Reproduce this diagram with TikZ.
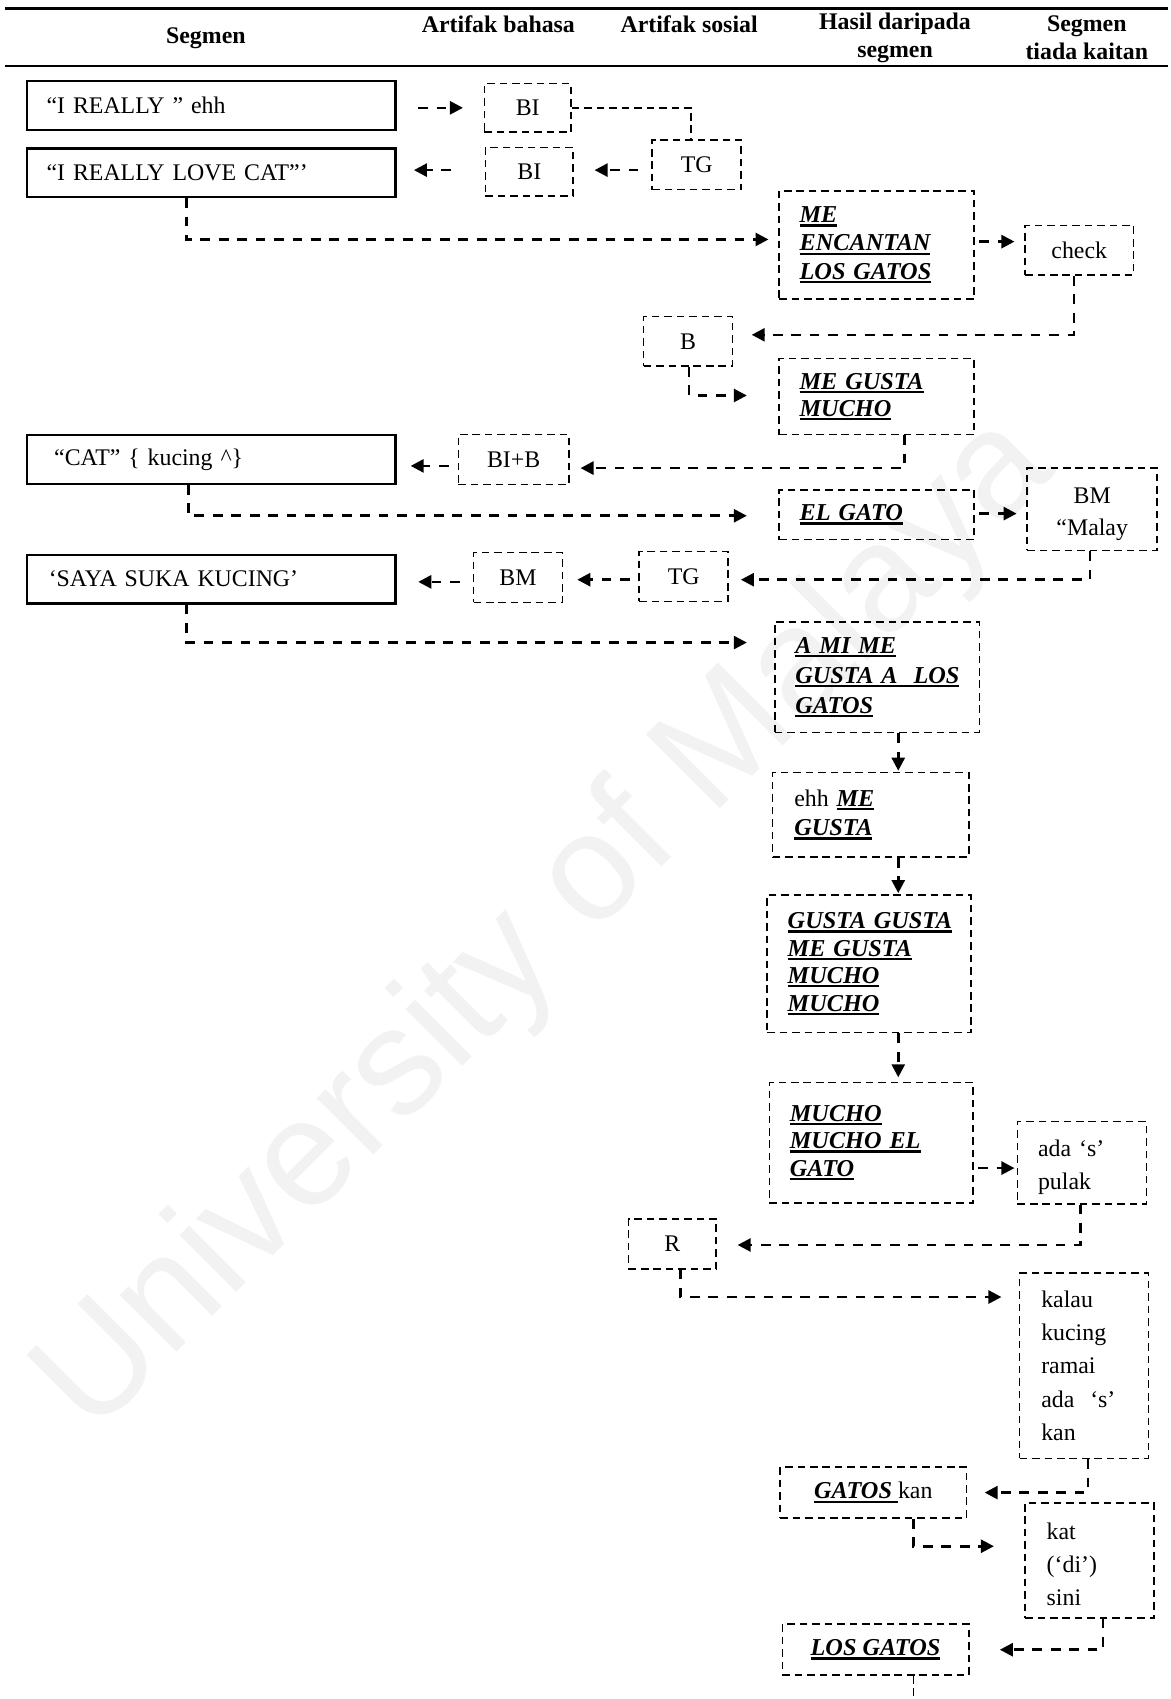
\documentclass[tikz,border=0pt]{standalone}
\usepackage{fontspec}
\setmainfont{Liberation Serif}
\newfontfamily\wmfont{Liberation Sans}
\usetikzlibrary{arrows.meta,calc}
\newcommand\ulx[1]{\leavevmode\setbox0=\hbox{#1}\rlap{\rule[-3.5pt]{\wd0}{2pt}}\box0}
\newcommand\bu[1]{\ulx{\fontsize{22.4}{26}\selectfont\bfseries\itshape #1}}
\begin{document}
\begin{tikzpicture}[x=1pt,y=-1pt,
  fs/.style={font=\fontsize{22}{#1}\selectfont},
  fs/.default=26,
  hdr/.style={font=\fontsize{22}{26}\selectfont\bfseries, align=center, inner sep=0pt},
  sbox/.style={draw, line width=2pt, inner sep=0pt, minimum height=45pt, align=left, fs},
  dbox/.style={draw, line width=1.5pt, dash pattern=on 7pt off 4.5pt, inner sep=0pt, fs},
  conn/.style={line width=2.4pt, dash pattern=on 9pt off 8pt, -{Triangle[length=12pt,width=12pt]}},
  thinc/.style={line width=1.5pt, dash pattern=on 7pt off 4.5pt},
  wm/.style={font=\wmfont\fontsize{140}{142}\selectfont, text=black!5, rotate=45, inner sep=0pt}]
\fill[white] (0,0) rectangle (1080,1568);
\useasboundingbox (0,0) rectangle (1080,1568);

\node[wm] (wm) at (505,855) {University of Malaya};

% header
\draw[line width=2.5pt] (5,8) -- (1078,8);
\draw[line width=2.5pt] (5,61) -- (1078,61);
\node[hdr] (h1) at (190,35) {Segmen};
\node[hdr] (h2) at (460,22) {Artifak bahasa};
\node[hdr] (h3) at (636,22) {Artifak sosial};
\node[hdr] (h4) at (826,35) {Hasil daripada\\segmen};
\node[hdr] (h5) at (1003,35) {Segmen\\tiada kaitan};

% nodes
\node[sbox, text width=304pt, inner xsep=18pt] (s1) at (195,97.5) {“I REALLY ” ehh};
\node[sbox, text width=304pt, inner xsep=18pt] (s2) at (195,159.5) {“I REALLY LOVE CAT”’};
\node[dbox, minimum width=80pt, minimum height=45pt] (bi1) at (487,99.5) {BI};
\node[dbox, minimum width=81pt, minimum height=45pt] (bi2) at (488.5,158.5) {BI};
\node[dbox, minimum width=82pt, minimum height=46pt] (tg1) at (643,152) {TG};
\node[dbox, align=left, text width=142pt, inner xsep=19pt, minimum height=100pt] (me1) at (809,226) {\bu{ME}\\\bu{ENCANTAN}\\\bu{LOS GATOS}};
\node[dbox, minimum width=100pt, minimum height=46pt] (check) at (996,231) {check};
\node[dbox, minimum width=82pt, minimum height=46pt] (b) at (635,315) {B};
\node[dbox, align=left, text width=142pt, inner xsep=19pt, minimum height=70pt, fs=25] (mgm) at (809,366) {\bu{ME GUSTA}\\\bu{MUCHO}};
\node[dbox, minimum width=102pt, minimum height=46pt] (bib) at (474,424) {BI+B};
\node[sbox, text width=290pt, inner xsep=25pt] (s3) at (195,424) {“CAT” \{ kucing \textasciicircum\}};
\node[dbox, align=left, text width=142pt, inner xsep=19pt, minimum height=46pt] (elg) at (809,475) {\bu{EL GATO}};
\node[dbox, align=center, minimum width=120pt, minimum height=76pt, fs=30] (bm1) at (1008,470) {\rule{0pt}{24pt}BM\\“Malay};
\node[dbox, minimum width=82pt, minimum height=46pt] (tg2) at (631,532) {TG};
\node[dbox, minimum width=82pt, minimum height=46pt] (bm2) at (478,533) {BM};
\node[sbox, text width=300pt, inner xsep=20pt] (s4) at (195,534.5) {‘SAYA SUKA KUCING’};
\node[dbox, align=left, text width=151pt, inner xsep=19pt, minimum height=102pt, fs=27.5] (ami) at (809.5,625) {\bu{A MI ME}\\\bu{GUSTA A\ \ LOS}\\\bu{GATOS}};
\node[dbox, align=left, text width=141pt, inner xsep=20pt, minimum height=78pt, fs=27] (ehh) at (803.5,752) {ehh \bu{ME}\\\bu{GUSTA}};
\node[dbox, align=left, text width=150pt, inner xsep=19pt, minimum height=127pt, fs=25.3] (gg) at (802,889.5) {\bu{GUSTA GUSTA}\\\bu{ME GUSTA}\\\bu{MUCHO}\\\bu{MUCHO}};
\node[dbox, align=left, text width=150pt, inner xsep=19pt, minimum height=111pt, fs=25.5] (mm) at (804,1054.5) {\bu{MUCHO}\\\bu{MUCHO EL}\\\bu{GATO}};
\node[dbox, align=left, text width=81pt, inner xsep=19pt, minimum height=76pt, fs=31] (ada) at (998.5,1073) {\rule{0pt}{24pt}ada ‘s’\\pulak};
\node[dbox, minimum width=81pt, minimum height=46pt] (r) at (620.5,1148) {R};
\node[dbox, align=left, text width=79pt, inner xsep=20pt, minimum height=171pt, fs=30.5] (kalau) at (1000.5,1260.5) {kalau\\kucing\\ramai\\ada\ \ ‘s’\\kan};
\node[dbox, minimum width=172pt, minimum height=47pt] (gk) at (806,1377.5) {\ulx{\fontsize{22.4}{26}\selectfont\bfseries\itshape GATOS\ }kan};
\node[dbox, align=left, text width=79pt, inner xsep=20pt, minimum height=106pt, fs=30.5] (kat) at (1005.5,1440) {\rule{0pt}{22pt}kat\\(‘di’)\\sini};
\node[dbox, minimum width=172pt, minimum height=47pt] (lg) at (808,1522.5) {\bu{LOS GATOS}};
\coordinate (cend) at (843,1572);

% connectors
\draw[conn] ($(s1.east)+(20,2)$) -- ($(bi1.west)+(-19,0)$);
\draw[thinc] (bi1.east) -| ($(tg1.north)+(-5,0)$);
\draw[conn] ($(tg1.west)+(-12,5)$) -- ($(bi2.east)+(19,-1.5)$);
\draw[conn] ($(bi2.west)+(-31,-1.5)$) -- ($(s2.east)+(16,-2.5)$);
\draw[conn] ($(s2.south)+(-23,0)$) |- ($(me1.west)+(-9,-5)$);
\draw[conn] ($(me1.east)+(4,-3)$) -- ($(check.west)+(-9,-8)$);
\draw[conn] ($(check.south)+(-5,0)$) |- ($(b.east)+(17,-6)$);
\draw[conn] ($(b.south)+(1,0)$) |- ($(mgm.west)+(-29,-1)$);
\draw[conn] ($(mgm.south)+(26,0)$) |- ($(bib.east)+(10,8)$);
\draw[conn] ($(bib.west)+(-8,6)$) -- ($(s3.east)+(13,6)$);
\draw[conn] ($(s3.south)+(-21,0)$) |- ($(elg.west)+(-29,1)$);
\draw[conn] ($(elg.east)+(4,-1)$) -- ($(bm1.west)+(-9,4)$);
\draw[conn] ($(bm1.south)+(-2,0)$) |- ($(tg2.east)+(11,3)$);
\draw[conn] ($(tg2.west)+(-8,3)$) -- ($(bm2.east)+(13,2)$);
\draw[conn] ($(bm2.west)+(-12,4)$) -- ($(s4.east)+(20,2.5)$);
\draw[conn] ($(s4.south)+(-23,0)$) |- ($(ami.west)+(-25,-32)$);
\draw[conn] ($(ami.south)+(19.5,0)$) -- ($(ehh.north)+(25.5,-1)$);
\draw[conn] ($(ehh.south)+(25.5,0)$) -- ($(gg.north)+(27,-1)$);
\draw[conn] ($(gg.south)+(27,0)$) -- ($(mm.north)+(25,-4)$);
\draw[conn] ($(mm.east)+(4,23.5)$) -- ($(ada.west)+(-2,5)$);
\draw[conn] ($(ada.south)+(-1.5,0)$) |- ($(r.east)+(19,1)$);
\draw[conn] ($(r.south)+(7.5,0)$) |- ($(kalau.west)+(-16,-63.5)$);
\draw[conn] ($(kalau.south)+(3.5,0)$) |- ($(gk.east)+(16,0)$);
\draw[conn] ($(gk.south)+(37,0)$) |- ($(kat.west)+(-28,-13)$);
\draw[conn] ($(kat.south)+(12.5,0)$) |- ($(lg.east)+(28,0)$);
\draw[thinc] ($(lg.south)+(35,0)$) -- (cend);
\end{tikzpicture}
\end{document}
